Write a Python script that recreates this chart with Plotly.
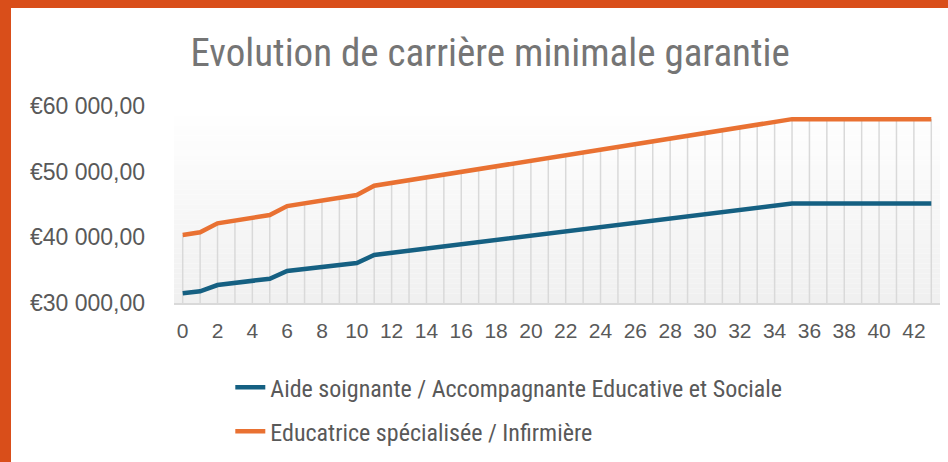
import plotly.graph_objects as go

years = list(range(44))
aide = [31500, 31780, 32740, 33060, 33380, 33700, 34870, 35170, 35480, 35780,
        36090, 37310, 37640, 37960, 38290, 38620, 38950, 39270, 39600, 39930,
        40250, 40580, 40910, 41230, 41560, 41890, 42220, 42540, 42870, 43200,
        43520, 43850, 44180, 44500, 44830, 45160, 45160, 45160, 45160, 45160,
        45160, 45160, 45160, 45160]
educ = [40350, 40760, 42130, 42550, 42970, 43390, 44760, 45180, 45600, 46020,
        46440, 47850, 48270, 48700, 49120, 49540, 49970, 50390, 50810, 51240,
        51660, 52080, 52500, 52930, 53350, 53770, 54200, 54620, 55040, 55460,
        55890, 56310, 56730, 57160, 57580, 58000, 58000, 58000, 58000, 58000,
        58000, 58000, 58000, 58000]
y_ticks = [30000, 40000, 50000, 60000]
y_labels = ["€30 000,00", "€40 000,00", "€50 000,00", "€60 000,00"]
x_ticks = list(range(0, 43, 2))

names = ["Aide soignante / Accompagnante Educative et Sociale",
         "Educatrice spécialisée / Infirmière"]
colors = ["#156082", "#E97132"]

NARROW = "Liberation Sans Narrow, Arial Narrow, Roboto Condensed, DejaVu Sans Condensed, Liberation Sans, sans-serif"
SANS = "Liberation Sans, Arial, sans-serif"

fig = go.Figure()

# drop lines from top series to the axis
dx, dy = [], []
for x, a, e in zip(years, aide, educ):
    top = max(a, e)
    dx += [x, x, None]
    dy += [y_ticks[0], top, None]
fig.add_trace(go.Scatter(x=dx, y=dy, mode="lines", line=dict(color="#d9d9d9", width=1.5),
                         showlegend=False, hoverinfo="skip"))

for i, (vals, name, col) in enumerate(zip([aide, educ], names, colors)):
    fig.add_trace(go.Scatter(x=years, y=vals, mode="lines", name=name,
                             legendgroup=f"g{i}",
                             line=dict(color=col, width=4.5)))

# gradient background of plot area
shapes = []
n = 40
lo, hi = y_ticks[0], y_ticks[-1]
for k in range(n):
    t = k / (n - 1)
    c = int(round(240 + (255 - 240) * t))
    y0 = lo + (hi - lo) * k / n
    y1 = lo + (hi - lo) * (k + 1) / n
    shapes.append(dict(type="rect", xref="paper", yref="y", x0=0, x1=1, y0=y0, y1=y1,
                       fillcolor=f"rgb({c},{c},{c})", line=dict(width=0), layer="below"))
# orange frame
shapes.append(dict(type="rect", xref="paper", yref="paper", x0=-174/766, x1=-163/766,
                   y0=-1, y1=2, fillcolor="#D94E1A", line=dict(width=0), layer="above"))
shapes.append(dict(type="rect", xref="paper", yref="paper", x0=-1, x1=2,
                   y0=(303 - 8) / 197, y1=3, fillcolor="#D94E1A", line=dict(width=0), layer="above"))

fig.update_layout(
    width=948, height=462,
    margin=dict(l=174, r=8, t=106, b=159, autoexpand=False),
    paper_bgcolor="white", plot_bgcolor="rgba(0,0,0,0)",
    shapes=shapes,
    title=dict(text="Evolution de carrière minimale garantie", x=0.517, xanchor="center",
               y=1 - 52 / 462, yanchor="middle",
               font=dict(family=NARROW, size=39, color="#757575")),
    xaxis=dict(range=[-0.5, 43.5], tickmode="array", tickvals=x_ticks,
               ticktext=[str(v) for v in x_ticks], showgrid=False, zeroline=False,
               showline=True, linecolor="#d9d9d9", linewidth=1.5, ticks="",
               tickfont=dict(family=SANS, size=21, color="#595959"), ticklabelstandoff=8),
    yaxis=dict(range=[lo, hi], tickmode="array", tickvals=y_ticks, ticktext=y_labels,
               showgrid=False, zeroline=False, showline=False, ticks="",
               tickfont=dict(family=SANS, size=23, color="#595959"), ticklabelstandoff=28),
    legend=dict(x=0.0735, y=-0.315, xanchor="left", yanchor="top", orientation="v",
                tracegroupgap=10, font=dict(family=NARROW, size=24, color="#595959"),
                bgcolor="rgba(0,0,0,0)"),
    showlegend=True,
)

fig.write_html("out.html", config={"displayModeBar": False},
               post_script="document.body.style.margin='0';document.body.style.overflow='hidden';")
